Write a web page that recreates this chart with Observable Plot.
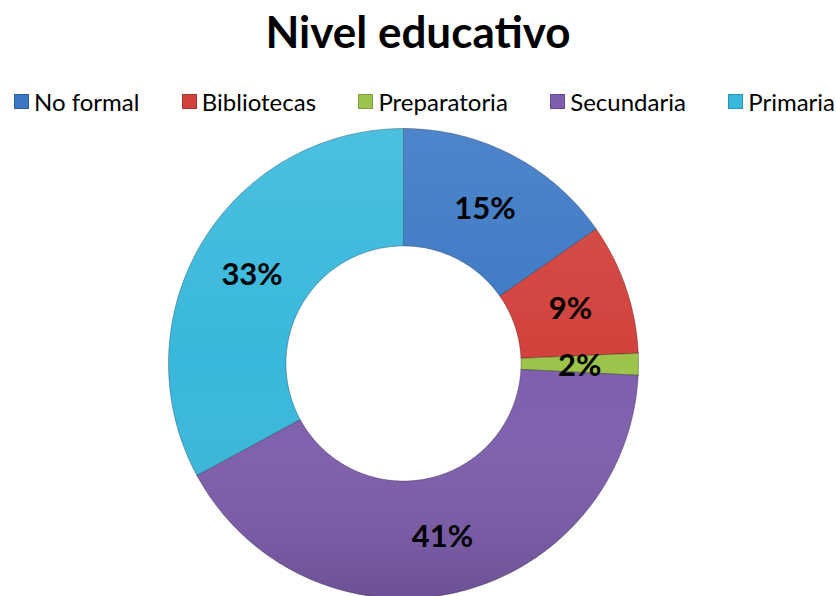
<!DOCTYPE html>
<html>
<head>
<meta charset="utf-8">
<script src="https://cdn.jsdelivr.net/npm/d3@7"></script>
<script src="https://cdn.jsdelivr.net/npm/@observablehq/plot@0.6"></script>
<style>
  html, body { margin: 0; padding: 0; background: #fff; overflow: hidden; width: 836px; height: 596px; }
  #title { position: absolute; left: 0; top: 5px; width: 836px; text-align: center;
           font-family: Lato, "Open Sans", sans-serif; font-weight: bold; font-size: 44px; color: #000; }
  #legend { position: absolute; left: 14px; top: 87px; width: 821px; display: flex; justify-content: space-between;
            font-family: Lato, "Open Sans", sans-serif; font-size: 24px; color: #000; box-sizing: border-box; }
  .item { display: flex; align-items: center; }
  .sw { width: 15px; height: 15px; margin-right: 5px; box-sizing: border-box; }
  #chart { position: absolute; left: 0; top: 118px; }
</style>
</head>
<body>
<div id="title">Nivel educativo</div>
<div id="legend"></div>
<div id="chart"></div>
<script>
const categories = ["No formal", "Bibliotecas", "Preparatoria", "Secundaria", "Primaria"];
const values = [15.3, 9.0, 1.5, 41.3, 32.9];
const labels = ["15%", "9%", "2%", "41%", "33%"];
const colors = ["#3b78c4", "#d2413c", "#9dc44a", "#7e5eae", "#38b8dc"];

const innerR = 0.5, outerR = 1;
const pie = d3.pie().sort(null).startAngle(0).endAngle(2 * Math.PI);
const arcs = pie(values);

const ring = [];
const textPts = [];
arcs.forEach((a, i) => {
  const name = categories[i];
  const n = Math.max(4, Math.ceil((a.endAngle - a.startAngle) / 0.01));
  const pts = [];
  for (let k = 0; k <= n; k++) {
    const t = a.startAngle + (a.endAngle - a.startAngle) * k / n;
    pts.push({name, x: outerR * Math.sin(t), y: outerR * Math.cos(t)});
  }
  for (let k = n; k >= 0; k--) {
    const t = a.startAngle + (a.endAngle - a.startAngle) * k / n;
    pts.push({name, x: innerR * Math.sin(t), y: innerR * Math.cos(t)});
  }
  pts.push(pts[0]);
  ring.push(...pts);
  const m = (a.startAngle + a.endAngle) / 2, rm = (innerR + outerR) / 2;
  textPts.push({name, label: labels[i], x: rm * Math.sin(m), y: rm * Math.cos(m)});
});

// shading overlay ring (single full ring)
const shade = [];
for (let k = 0; k <= 400; k++) { const t = 2 * Math.PI * k / 400; shade.push({x: outerR * Math.sin(t), y: outerR * Math.cos(t)}); }
for (let k = 400; k >= 0; k--) { const t = 2 * Math.PI * k / 400; shade.push({x: innerR * Math.sin(t), y: innerR * Math.cos(t)}); }

const R = 235;
const chart = Plot.plot({
  width: 836,
  height: 480,
  margin: 0,
  style: {background: "transparent", overflow: "visible"},
  x: {domain: [-403 / R, 433 / R], range: [0, 836], axis: null},
  y: {domain: [245 / R, -235 / R], range: [0, 480], axis: null},
  color: {domain: categories, range: colors},
  marks: [
    Plot.line(ring, {x: "x", y: "y", z: "name", fill: "name", stroke: "rgba(0,0,0,0.28)", strokeWidth: 1, curve: "linear"}),
    Plot.line(shade, {x: "x", y: "y", fill: "url(#shadeGrad)", stroke: "none", curve: "linear"}),
    Plot.text(textPts, {x: "x", y: "y", text: "label", fontSize: 31, fontWeight: "bold", fill: "#000",
      fontFamily: "Lato, 'Open Sans', sans-serif", dy: 2})
  ]
});
const defs = d3.select(chart).insert("defs", ":first-child");
const g = defs.append("linearGradient").attr("id", "shadeGrad").attr("x1", 0).attr("y1", 0).attr("x2", 0).attr("y2", 1);
g.append("stop").attr("offset", "0%").attr("stop-color", "#fff").attr("stop-opacity", 0.1);
g.append("stop").attr("offset", "50%").attr("stop-color", "#fff").attr("stop-opacity", 0);
g.append("stop").attr("offset", "100%").attr("stop-color", "#000").attr("stop-opacity", 0.14);
document.getElementById("chart").appendChild(chart);

const leg = document.getElementById("legend");
categories.forEach((c, i) => {
  const it = document.createElement("div"); it.className = "item";
  const sw = document.createElement("div"); sw.className = "sw";
  sw.style.background = colors[i];
  sw.style.border = "1px solid " + d3.color(colors[i]).darker(0.6);
  const tx = document.createElement("span"); tx.textContent = c;
  it.appendChild(sw); it.appendChild(tx); leg.appendChild(it);
});
</script>
</body>
</html>
